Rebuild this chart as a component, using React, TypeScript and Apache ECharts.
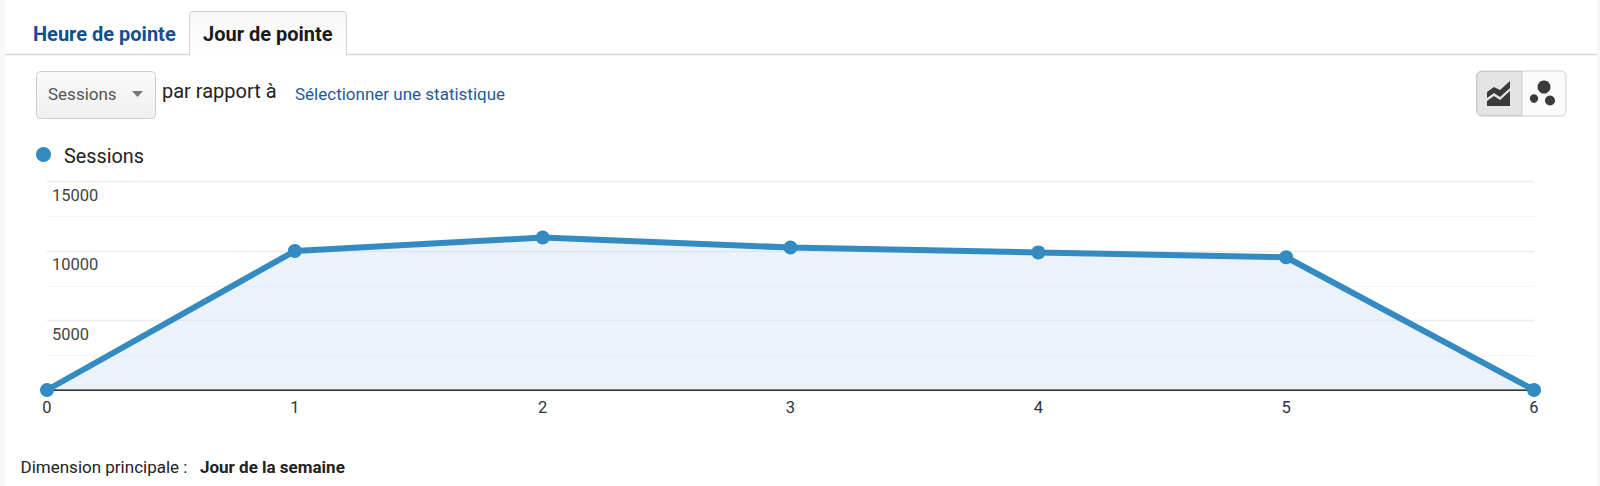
import React, { useEffect, useRef } from "react";
import * as echarts from "echarts";

const categories = ["0", "1", "2", "3", "4", "5", "6"];
const sessions = [0, 10000, 10970, 10250, 9900, 9550, 0];
const yTicks = { min: 0, max: 15000, interval: 5000 };
const seriesName = "Sessions";
const tabLabels = ["Heure de pointe", "Jour de pointe"];
const FONT = "Roboto, 'Noto Sans', Arial, sans-serif";
const BLUE = "#348bc2";

function txt(x: number, y: number, text: string, size: number, fill: string, weight: any = 400, align: any = "left") {
  return {
    type: "text",
    x,
    y,
    silent: true,
    z: 20,
    style: { text, font: `${weight} ${size}px ${FONT}`, fill, textAlign: align, textVerticalAlign: "middle" },
  };
}

function rect(x: number, y: number, w: number, h: number, fill: any, stroke?: string, r: any = 0) {
  return {
    type: "rect",
    silent: true,
    z: 10,
    shape: { x, y, width: w, height: h, r },
    style: { fill, stroke: stroke ?? undefined, lineWidth: stroke ? 1 : 0 },
  };
}

function grad(a: string, b: string) {
  return new echarts.graphic.LinearGradient(0, 0, 0, 1, [
    { offset: 0, color: a },
    { offset: 1, color: b },
  ]);
}

export default function App() {
  const ref = useRef<HTMLDivElement>(null);
  useEffect(() => {
    document.body.style.margin = "0";
    const chart = echarts.init(ref.current!, null, { renderer: "svg" });
    chart.setOption({
      animation: false,
      backgroundColor: "#ffffff",
      grid: { left: 47, right: 66, top: 181.5, bottom: 96, containLabel: false },
      xAxis: {
        type: "category",
        data: categories,
        boundaryGap: false,
        axisLine: { lineStyle: { color: "#000000", width: 1.5 } },
        axisTick: { show: false },
        axisLabel: { color: "#333333", fontSize: 16.5, fontFamily: FONT, margin: 9 },
        splitLine: { show: false },
      },
      yAxis: {
        type: "value",
        ...yTicks,
        axisLine: { show: false },
        axisTick: { show: false },
        minorTick: { show: false, splitNumber: 2 },
        axisLabel: {
          inside: true,
          margin: 5,
          color: "#444444",
          fontSize: 16.5,
          fontFamily: FONT,
          verticalAlign: "top",
          padding: [5, 0, 0, 0],
          showMinLabel: false,
          formatter: (v: number) => String(v),
        },
        splitLine: { lineStyle: { color: "#ececee", width: 1.3 } },
        minorSplitLine: { show: true, lineStyle: { color: "#f5f5f6", width: 1 } },
      },
      series: [
        {
          name: seriesName,
          type: "line",
          data: sessions,
          clip: false,
          z: 5,
          symbol: "circle",
          symbolSize: 14,
          showAllSymbol: true,
          lineStyle: { color: BLUE, width: 6 },
          itemStyle: { color: BLUE },
          areaStyle: { color: "rgba(200,219,238,0.36)", opacity: 1 },
        },
      ],
      graphic: [
        rect(0, 0, 5, 486, "#f7f8fa"),
        rect(1597, 0, 3, 486, "#f7f8fa"),
        { type: "line", silent: true, z: 9, shape: { x1: 5, y1: 54.5, x2: 1597, y2: 54.5 }, style: { stroke: "#d6d6d6", lineWidth: 1.5 } },
        rect(189.5, 11.5, 157, 44, grad("#f7f7f7", "#ffffff"), "#cfcfcf", [3, 3, 0, 0]),
        { type: "line", silent: true, z: 11, shape: { x1: 190, y1: 55, x2: 346, y2: 55 }, style: { stroke: "#ffffff", lineWidth: 2 } },
        txt(33, 33.5, tabLabels[0], 20, "#134f8d", 700),
        txt(203, 33.5, tabLabels[1], 20, "#1a1a1a", 700),
        rect(36.5, 71.5, 119, 47, grad("#fafafa", "#f0f0f0"), "#cccccc", 4),
        txt(48, 94, "Sessions", 17, "#555555"),
        { type: "polygon", silent: true, z: 20, shape: { points: [[132, 91], [143, 91], [137.5, 97]] }, style: { fill: "#777777" } },
        txt(162, 90.5, "par rapport à", 20, "#222222"),
        txt(295, 94, "Sélectionner une statistique", 17, "#1f5a96"),
        rect(1476.5, 71, 89.5, 45, "#fafafa", "#cfcfcf", 5),
        rect(1477, 71.5, 45, 44, "#e4e4e4", "#c9c9c9", [5, 0, 0, 5]),
        {
          type: "polygon", silent: true, z: 20,
          shape: { points: [[1487, 92], [1494, 87], [1500, 90], [1510, 81], [1510, 88], [1500, 97], [1494, 93], [1487, 98]] },
          style: { fill: "#3a3a3a" },
        },
        {
          type: "polygon", silent: true, z: 20,
          shape: { points: [[1487, 101], [1494, 96], [1500, 100], [1510, 91], [1510, 106], [1487, 106]] },
          style: { fill: "#3a3a3a" },
        },
        { type: "circle", silent: true, z: 20, shape: { cx: 1544, cy: 87, r: 6.5 }, style: { fill: "#3a3a3a" } },
        { type: "circle", silent: true, z: 20, shape: { cx: 1534, cy: 98.5, r: 4.2 }, style: { fill: "#3a3a3a" } },
        { type: "circle", silent: true, z: 20, shape: { cx: 1550, cy: 100.5, r: 5 }, style: { fill: "#3a3a3a" } },
        { type: "circle", silent: true, z: 20, shape: { cx: 43.5, cy: 154.5, r: 7.5 }, style: { fill: BLUE } },
        txt(64, 156.5, seriesName, 19.8, "#222222"),
        txt(20.5, 467, "Dimension principale :", 17, "#222222"),
        txt(200, 467, "Jour de la semaine", 17, "#222222", 700),
      ],
    });
    return () => chart.dispose();
  }, []);
  return <div ref={ref} style={{ width: 1600, height: 486 }} />;
}
